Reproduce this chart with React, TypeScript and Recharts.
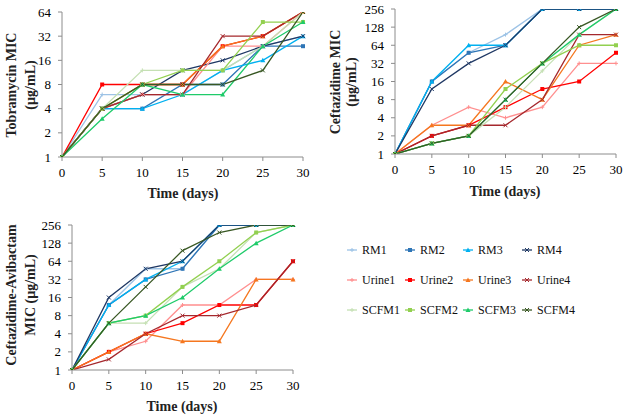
import React from 'react'
import { LineChart, Line, XAxis, YAxis } from 'recharts'

const days = [0, 5, 10, 15, 20, 25, 30]
const seriesNames = [
  'RM1', 'RM2', 'RM3', 'RM4',
  'Urine1', 'Urine2', 'Urine3', 'Urine4',
  'SCFM1', 'SCFM2', 'SCFM3', 'SCFM4',
]
const seriesColors = [
  '#9DC3E6', '#2E75B6', '#00B0F0', '#1F3864',
  '#FF8F8F', '#FF0000', '#F5771F', '#A5282D',
  '#C5E0B4', '#92D050', '#1FCB6A', '#385723',
]
const markerTypes = ['plus', 'square', 'triangle', 'cross']

// MIC values, one row per series (same order as seriesNames)
const tobramycinMIC = [
  [1, 6, 6, 6, 12, 24, 32],
  [1, 4, 4, 8, 8, 24, 24],
  [1, 4, 4, 6, 12, 16, 32],
  [1, 4, 6, 12, 16, 24, 32],
  [1, 4, 6, 6, 24, 24, 64],
  [1, 8, 8, 8, 24, 32, 64],
  [1, 4, 8, 8, 24, 32, 64],
  [1, 4, 6, 6, 32, 32, 64],
  [1, 4, 12, 12, 12, 24, 64],
  [1, 4, 8, 12, 12, 48, 48],
  [1, 3, 8, 6, 6, 24, 48],
  [1, 4, 8, 8, 8, 12, 64],
]
const ceftazidimeMIC = [
  [1, 16, 48, 96, 256, 256, 256],
  [1, 16, 48, 64, 256, 256, 256],
  [1, 16, 64, 64, 256, 256, 256],
  [1, 12, 32, 64, 256, 256, 256],
  [1, 3, 6, 4, 6, 32, 32],
  [1, 2, 3, 6, 12, 16, 48],
  [1, 3, 3, 16, 8, 64, 96],
  [1, 2, 3, 3, 8, 96, 96],
  [1, 1.5, 2, 6, 24, 96, 256],
  [1, 1.5, 2, 12, 32, 64, 64],
  [1, 1.5, 2, 8, 32, 96, 256],
  [1, 1.5, 2, 8, 32, 128, 256],
]
const avibactamMIC = [
  [1, 12, 48, 48, 256, 256, 256],
  [1, 12, 32, 48, 256, 256, 256],
  [1, 12, 32, 64, 256, 256, 256],
  [1, 16, 48, 64, 256, 256, 256],
  [1, 2, 3, 12, 12, 32, 32],
  [1, 2, 4, 6, 12, 12, 64],
  [1, 2, 4, 3, 3, 32, 32],
  [1, 1.5, 4, 8, 8, 12, 64],
  [1, 6, 6, 24, 48, 192, 256],
  [1, 6, 8, 24, 64, 192, 256],
  [1, 6, 8, 16, 48, 128, 256],
  [1, 6, 24, 96, 192, 256, 256],
]
const ticks64 = [1, 2, 4, 8, 16, 32, 64]
const ticks256 = [1, 2, 4, 8, 16, 32, 64, 128, 256]
const dayTicks = [0, 5, 10, 15, 20, 25, 30]

const FONT = 'Times New Roman, Liberation Serif, Times, serif'

function toRows(values: number[][]) {
  return days.map((d, i) => {
    const row: Record<string, number> = { day: d }
    seriesNames.forEach((name, s) => {
      row[name] = values[s][i]
    })
    return row
  })
}

function Marker({ type, x, y, color }: { type: string; x: number; y: number; color: string }) {
  if (type === 'square') return <rect x={x - 2} y={y - 2} width={4} height={4} fill={color} />
  if (type === 'triangle')
    return <polygon points={`${x},${y - 2.5} ${x + 2.5},${y + 2} ${x - 2.5},${y + 2}`} fill={color} />
  if (type === 'cross')
    return (
      <path d={`M${x - 2},${y - 2}L${x + 2},${y + 2}M${x - 2},${y + 2}L${x + 2},${y - 2}`} stroke={color} strokeWidth={1} />
    )
  return <path d={`M${x - 2},${y}L${x + 2},${y}M${x},${y - 2}L${x},${y + 2}`} stroke={color} strokeWidth={1} />
}

function Panel(props: {
  values: number[][]
  yTicks: number[]
  left: number
  top: number
  width: number
  height: number
  margin: { top: number; right: number; left: number; bottom: number }
  yWidth: number
  xHeight: number
}) {
  const rows = toRows(props.values)
  const tickStyle = { fill: '#000', fontSize: 13, style: { fontFamily: FONT } }
  return (
    <div style={{ position: 'absolute', left: props.left, top: props.top, fontFamily: FONT }}>
      <LineChart width={props.width} height={props.height} data={rows} margin={props.margin}>
        <XAxis
          dataKey="day"
          type="number"
          domain={[0, 30]}
          ticks={dayTicks}
          tick={tickStyle}
          tickSize={4}
          tickMargin={7}
          height={props.xHeight}
          stroke="#8c8c8c"
          interval={0}
        />
        <YAxis
          scale="log"
          domain={[1, props.yTicks[props.yTicks.length - 1]]}
          ticks={props.yTicks}
          tick={tickStyle}
          tickSize={4}
          tickMargin={7}
          width={props.yWidth}
          stroke="#8c8c8c"
          interval={0}
          allowDataOverflow
        />
        {seriesNames.map((name, s) => (
          <Line
            key={name}
            dataKey={name}
            stroke={seriesColors[s]}
            strokeWidth={1.3}
            isAnimationActive={false}
            dot={(p: any) => (
              <Marker key={`${name}-${p.index}`} type={markerTypes[s % 4]} x={p.cx} y={p.cy} color={seriesColors[s]} />
            )}
            activeDot={false}
          />
        ))}
      </LineChart>
    </div>
  )
}

const titleStyle = { fontFamily: FONT, fontWeight: 'bold' as const, fontSize: 14 }

function AxisTitle({ lines, x, y, gap }: { lines: string[]; x: number; y: number; gap: number }) {
  return (
    <g transform={`translate(${x},${y}) rotate(-90)`}>
      {lines.map((t, i) => (
        <text key={t} x={0} y={i * gap} textAnchor="middle" style={titleStyle} fill="#222">
          {t}
        </text>
      ))}
    </g>
  )
}

function Legend() {
  const colX = [352, 410, 468, 527]
  const rowY = [250, 280, 310]
  return (
    <g>
      {seriesNames.map((name, s) => {
        const x = colX[s % 4]
        const y = rowY[Math.floor(s / 4)]
        return (
          <g key={name}>
            <line x1={x - 5} y1={y} x2={x + 5} y2={y} stroke={seriesColors[s]} strokeWidth={1.3} />
            <Marker type={markerTypes[s % 4]} x={x} y={y} color={seriesColors[s]} />
            <text x={x + 10} y={y + 4} style={{ fontFamily: FONT, fontSize: 12 }} fill="#111">
              {name}
            </text>
          </g>
        )
      })}
    </g>
  )
}

export default function App() {
  return (
    <div style={{ position: 'absolute', left: 0, top: 0, width: 625, height: 416, background: '#fff' }}>
      <Panel
        values={tobramycinMIC}
        yTicks={ticks64}
        left={0}
        top={0}
        width={310}
        height={205}
        margin={{ top: 12, right: 7, left: 0, bottom: 0 }}
        yWidth={62}
        xHeight={48}
      />
      <Panel
        values={ceftazidimeMIC}
        yTicks={ticks256}
        left={310}
        top={0}
        width={315}
        height={205}
        margin={{ top: 9, right: 9, left: 0, bottom: 0 }}
        yWidth={85}
        xHeight={51}
      />
      <Panel
        values={avibactamMIC}
        yTicks={ticks256}
        left={0}
        top={215}
        width={305}
        height={201}
        margin={{ top: 10, right: 12, left: 0, bottom: 0 }}
        yWidth={72}
        xHeight={46}
      />
      <svg width={625} height={416} style={{ position: 'absolute', left: 0, top: 0, pointerEvents: 'none' }}>
        <AxisTitle lines={['Tobramycin MIC', '(µg/mL)']} x={16} y={85} gap={19} />
        <AxisTitle lines={['Ceftazidime MIC', '(µg/mL)']} x={340} y={82} gap={16} />
        <AxisTitle lines={['Ceftazidime-Avibactam', 'MIC (µg/mL)']} x={16} y={295} gap={19} />
        <text x={183} y={198} textAnchor="middle" style={titleStyle} fill="#222">
          Time (days)
        </text>
        <text x={505} y={196} textAnchor="middle" style={titleStyle} fill="#222">
          Time (days)
        </text>
        <text x={182} y={411} textAnchor="middle" style={titleStyle} fill="#222">
          Time (days)
        </text>
        <Legend />
      </svg>
    </div>
  )
}
